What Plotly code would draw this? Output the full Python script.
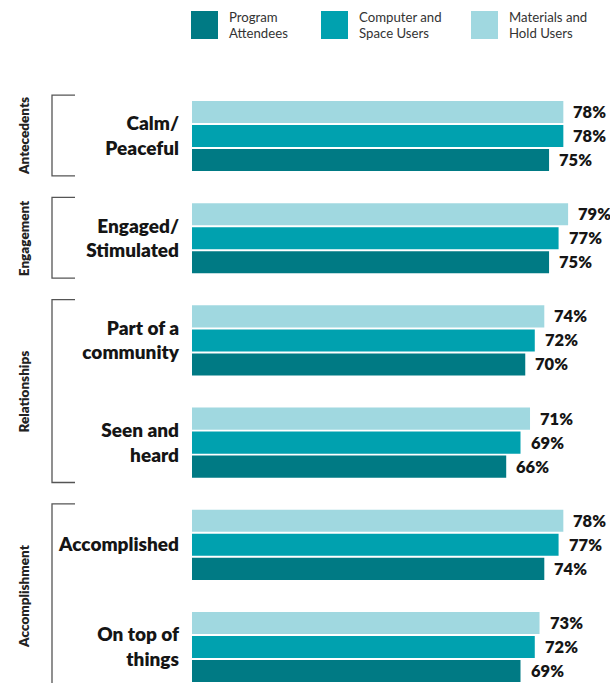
import plotly.graph_objects as go

# ---- data ---------------------------------------------------------------
categories = [
    "Calm/<br>Peaceful",
    "Engaged/<br>Stimulated",
    "Part of a<br>community",
    "Seen and<br>heard",
    "Accomplished",
    "On top of<br>things",
]
group_names = ["Antecedents", "Engagement", "Relationships", "Accomplishment"]
group_members = [[0], [1], [2, 3], [4, 5]]

series_names = ["Program Attendees", "Computer and Space Users", "Materials and Hold Users"]
legend_lines = [["Program", "Attendees"], ["Computer and", "Space Users"], ["Materials and", "Hold Users"]]
program_attendees = [75, 75, 70, 66, 74, 69]
computer_space_users = [78, 77, 72, 69, 77, 72]
materials_hold_users = [78, 79, 74, 71, 78, 73]

# ---- styling ------------------------------------------------------------
W, H = 610, 683
FONT = "Lato, 'Open Sans', sans-serif"
colors = ["#007A84", "#00A1AF", "#A0D8E0"]
TEXT = "#151515"
Y_RANGE = [5.352, -1.331]
X_MAX = 87.8
BARGAP = 0.295
BARGROUPGAP = 0.08


def px_x(px):
    return px / W


def px_y(py):
    return 1 - py / H


def data_y_to_paper(y):
    return (Y_RANGE[0] - y) / (Y_RANGE[0] - Y_RANGE[1])


values = [program_attendees, computer_space_users, materials_hold_users]
# drawn top to bottom within each cluster: Materials, Computer, Program
draw_order = [2, 1, 0]

fig = go.Figure()
ycats = list(range(len(categories)))
for k in draw_order:
    fig.add_trace(go.Bar(
        y=ycats, x=values[k], orientation="h", name=series_names[k],
        marker=dict(color=colors[k], line=dict(width=0)),
        showlegend=False, hoverinfo="x+name",
    ))

annotations = []
shapes = []

# value labels at the end of each bar
slot = (1 - BARGAP) / 3
for pos, k in enumerate(draw_order):
    off = (pos - 1) * slot
    for i, v in enumerate(values[k]):
        annotations.append(dict(
            x=v, y=i + off, xref="x", yref="y", text=f"{v}%",
            showarrow=False, xanchor="left", yanchor="middle", xshift=8,
            font=dict(family=FONT, size=16.5, color=TEXT, weight=800),
        ))

# group brackets and rotated group labels
for name, members in zip(group_names, group_members):
    top = min(members) - 0.40
    bot = max(members) + 0.39
    if max(members) == len(categories) - 1:
        bot = Y_RANGE[0] + 0.5
    yt, yb = data_y_to_paper(top), data_y_to_paper(bot)
    x_v, x_h = px_x(52), px_x(75)
    shapes.append(dict(
        type="path", xref="paper", yref="paper",
        path=f"M {x_h} {yt} L {x_v} {yt} L {x_v} {yb} L {x_h} {yb}",
        line=dict(color="#555555", width=1.3),
    ))
    ymid = sum(members) / len(members)
    annotations.append(dict(
        x=px_x(24), y=data_y_to_paper(ymid), xref="paper", yref="paper",
        text=name, textangle=-90, showarrow=False,
        xanchor="center", yanchor="middle",
        font=dict(family=FONT, size=13.5, color="#222222", weight=800),
    ))

# legend
legend_sq_x = [191, 321, 471]
for k in range(3):
    x0 = legend_sq_x[k]
    shapes.append(dict(
        type="rect", xref="paper", yref="paper",
        x0=px_x(x0), x1=px_x(x0 + 27), y0=px_y(11), y1=px_y(39),
        fillcolor=colors[k], line=dict(width=0),
    ))
    for j, line in enumerate(legend_lines[k]):
        annotations.append(dict(
            x=px_x(x0 + 36), y=px_y(17.5 + 16 * j), xref="paper", yref="paper",
            text=line, showarrow=False, xanchor="left", yanchor="middle",
            font=dict(family=FONT, size=13.2, color="#333333"),
        ))

fig.update_layout(
    width=W, height=H,
    margin=dict(l=0, r=0, t=0, b=0),
    paper_bgcolor="white", plot_bgcolor="white",
    barmode="group", bargap=BARGAP, bargroupgap=BARGROUPGAP,
    xaxis=dict(domain=[192 / W, 1], range=[0, X_MAX], visible=False, fixedrange=True),
    yaxis=dict(
        domain=[0, 1], range=Y_RANGE, tickvals=ycats, ticktext=categories,
        showgrid=False, zeroline=False, showline=False, ticks="",
        ticklabelstandoff=12,
        tickfont=dict(family=FONT, size=19, color=TEXT, weight=800),
        fixedrange=True,
    ),
    annotations=annotations,
    shapes=shapes,
    showlegend=False,
)

fig.write_html("out.html")
